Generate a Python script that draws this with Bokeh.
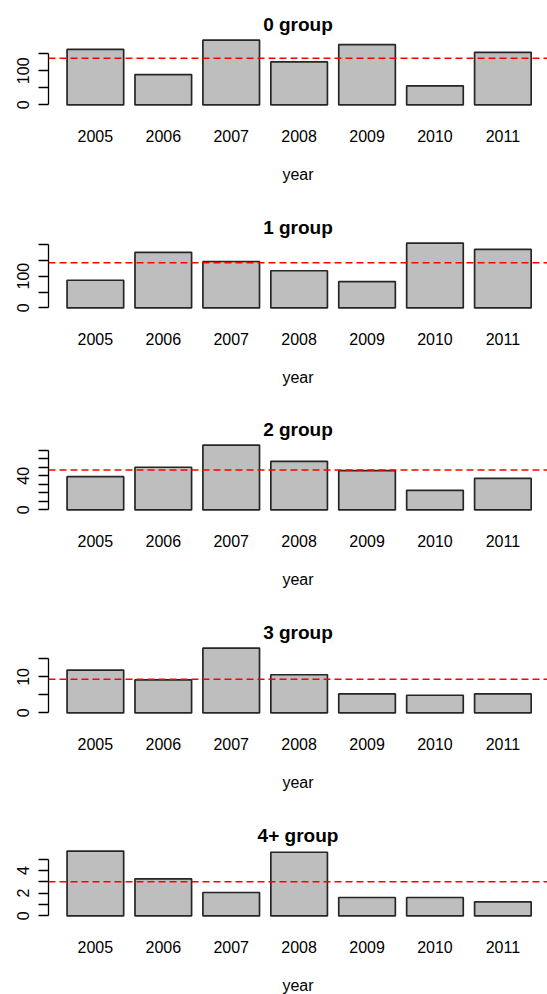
import numpy as np
from bokeh.plotting import figure
from bokeh.layouts import column
from bokeh.models import Span, LinearAxis, FixedTicker, Range1d
from bokeh.embed import file_html
from bokeh.resources import INLINE

# Catch by age group and year
years = ["2005", "2006", "2007", "2008", "2009", "2010", "2011"]
group_names = ["0 group", "1 group", "2 group", "3 group", "4+ group"]

group0 = [163, 89, 190, 126, 177, 56, 154]
group1 = [87, 175, 146, 117, 83, 204, 184]
group2 = [39, 50, 76, 57, 46, 23, 37]
group3 = [11.9, 9.2, 18.0, 10.6, 5.3, 4.9, 5.3]
group4 = [5.7, 3.26, 2.06, 5.6, 1.62, 1.62, 1.24]

# y-axis ticks and which of them carry a label
ticks0 = [0, 50, 100, 150]
ticks1 = [0, 50, 100, 150, 200]
ticks2 = [0, 10, 20, 30, 40, 50, 60, 70]
ticks3 = [0, 5, 10, 15]
ticks4 = [0, 1, 2, 3, 4, 5]
shown0 = [0, 100]
shown1 = [0, 100]
shown2 = [0, 40]
shown3 = [0, 10]
shown4 = [0, 2, 4]

series = [group0, group1, group2, group3, group4]
tick_sets = [ticks0, ticks1, ticks2, ticks3, ticks4]
shown_sets = [shown0, shown1, shown2, shown3, shown4]

FONT = "Liberation Sans"
BAR_W, GAP = 1.0, 0.2
px_per_unit = 56.6
frame_w = 499
bottoms = [96, 95, 96, 96, 76]

n = len(years)
centers = [GAP + BAR_W / 2 + i * (BAR_W + GAP) for i in range(n)]
span_x = n * BAR_W + (n - 1) * GAP  # first bar's left edge to last bar's right edge
x_start = GAP - 0.04 * span_x
x_end = x_start + frame_w / px_per_unit

plots = []
for k in range(5):
    vals = series[k]
    vmax = max(vals)
    p = figure(
        frame_width=frame_w, frame_height=70,
        x_range=Range1d(x_start, x_end),
        y_range=Range1d(-0.04 * vmax, 1.04 * vmax),
        output_backend="svg", toolbar_location=None,
        x_axis_location=None, y_axis_location=None,
        min_border_left=48, min_border_right=0,
        min_border_top=37, min_border_bottom=bottoms[k],
        background_fill_color="white", border_fill_color="white",
    )
    p.outline_line_color = None
    p.grid.visible = False

    p.title.text = group_names[k]
    p.title.align = "center"
    p.title.text_font = FONT
    p.title.text_font_size = "19px"
    p.title.text_font_style = "bold"
    p.title.text_color = "black"
    p.title.standoff = 5

    p.vbar(x=centers, top=vals, bottom=0, width=BAR_W,
           fill_color="#BEBEBE", line_color="#262626", line_width=1.7)

    # mean reference line
    p.add_layout(Span(location=float(np.mean(vals)), dimension="width",
                      line_color="#FF0000", line_dash="7 4", line_width=1.5))

    ticks = tick_sets[k]
    yax = LinearAxis(
        ticker=FixedTicker(ticks=ticks),
        bounds=(ticks[0], ticks[-1]),
        major_label_overrides={t: (str(t) if t in shown_sets[k] else "") for t in ticks},
        major_label_orientation="vertical",
        major_tick_out=10, major_tick_in=0,
        minor_tick_line_color=None,
        axis_line_color="black", major_tick_line_color="black",
        axis_line_width=1.3, major_tick_line_width=1.3,
        major_label_text_font=FONT, major_label_text_font_size="16px",
        major_label_text_color="black", major_label_standoff=9,
    )
    p.add_layout(yax, "left")

    xax = LinearAxis(
        ticker=FixedTicker(ticks=centers),
        major_label_overrides={c: y for c, y in zip(centers, years)},
        axis_line_color=None, major_tick_line_color=None,
        minor_tick_line_color=None,
        major_tick_out=0, major_tick_in=0,
        major_label_text_font=FONT, major_label_text_font_size="16px",
        major_label_text_color="black", major_label_standoff=22,
        axis_label="year", axis_label_text_font=FONT,
        axis_label_text_font_size="16px", axis_label_text_font_style="normal",
        axis_label_text_color="black", axis_label_standoff=21,
    )
    p.add_layout(xax, "below")
    plots.append(p)

layout = column(*plots, spacing=0)
open("out.html", "w").write(file_html(layout, INLINE))
